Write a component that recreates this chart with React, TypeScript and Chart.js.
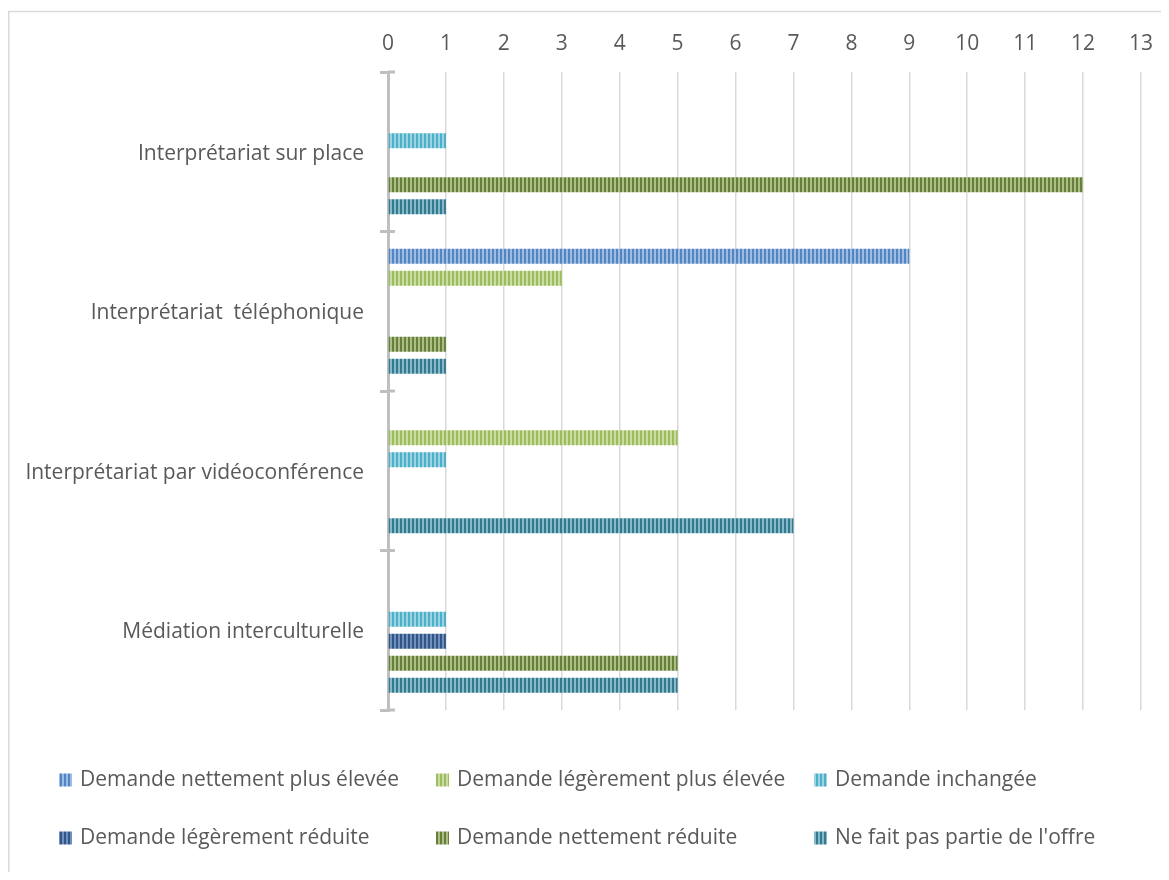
import React, { useEffect, useRef } from "react";
import { Chart, registerables } from "chart.js";

Chart.register(...registerables);

const categories = [
  "Interprétariat sur place",
  "Interprétariat  téléphonique",
  "Interprétariat par vidéoconférence",
  "Médiation interculturelle",
];

const seriesNames = [
  "Demande nettement plus élevée",
  "Demande légèrement plus élevée",
  "Demande inchangée",
  "Demande légèrement réduite",
  "Demande nettement réduite",
  "Ne fait pas partie de l'offre",
];

const nettementPlus = [0, 9, 0, 0];
const legerementPlus = [0, 3, 5, 0];
const inchangee = [1, 0, 1, 1];
const legerementReduite = [0, 0, 0, 1];
const nettementReduite = [12, 1, 0, 5];
const pasOffre = [1, 1, 7, 5];

const darkColors = ["#5585c0", "#9dbd5c", "#4dafc8", "#2f5687", "#677f3a", "#35798f"];
const lightColors = ["#9cbce3", "#c9dca5", "#9ad3e2", "#7290bb", "#abbe86", "#86bac9"];

const xTicks = { min: 0, max: 13, step: 1 };

const FONT = "'Open Sans'";
const FONT_SIZE = 21;
const TEXT_COLOR = "#595959";

function makePattern(ctx: CanvasRenderingContext2D, dark: string, light: string) {
  const c = document.createElement("canvas");
  c.width = 4;
  c.height = 4;
  const x = c.getContext("2d")!;
  x.fillStyle = light;
  x.fillRect(0, 0, 4, 4);
  x.fillStyle = dark;
  x.fillRect(0, 0, 2, 4);
  return ctx.createPattern(c, "repeat") as CanvasPattern;
}

const frameAndLegend = {
  id: "frameAndLegend",
  afterDraw(chart: any) {
    const ctx: CanvasRenderingContext2D = chart.ctx;
    ctx.save();
    // frame (left and top)
    ctx.strokeStyle = "#d9d9d9";
    ctx.lineWidth = 1.5;
    ctx.beginPath();
    ctx.moveTo(0.75, chart.height);
    ctx.lineTo(0.75, 3.5);
    ctx.lineTo(chart.width, 3.5);
    ctx.stroke();
    // right part of the category tick marks
    const ys = chart.scales.y;
    const left = chart.chartArea.left;
    ctx.strokeStyle = "#bfbfbf";
    ctx.lineWidth = 3;
    const n = chart.data.labels.length;
    const step = (ys.bottom - ys.top) / n;
    ctx.beginPath();
    for (let i = 0; i <= n; i++) {
      const y = ys.top + i * step;
      ctx.moveTo(left, y);
      ctx.lineTo(left + 7, y);
    }
    ctx.stroke();
    // legend grid
    const colX = [51, 428, 806];
    const rowY = [772, 830];
    ctx.font = `${FONT_SIZE}px ${FONT}`;
    ctx.textBaseline = "middle";
    ctx.textAlign = "left";
    chart.data.datasets.forEach((ds: any, i: number) => {
      const cx = colX[i % 3];
      const cy = rowY[Math.floor(i / 3)];
      ctx.fillStyle = ds.backgroundColor;
      ctx.fillRect(cx, cy - 6.5, 13, 13);
      ctx.fillStyle = TEXT_COLOR;
      ctx.fillText(ds.label, cx + 21, cy);
    });
    ctx.restore();
  },
};

export default function App() {
  const ref = useRef<HTMLCanvasElement>(null);
  useEffect(() => {
    const canvas = ref.current!;
    const ctx = canvas.getContext("2d")!;
    const values = [nettementPlus, legerementPlus, inchangee, legerementReduite, nettementReduite, pasOffre];
    const datasets = seriesNames.map((name, i) => ({
      label: name,
      data: values[i],
      backgroundColor: makePattern(ctx, darkColors[i], lightColors[i]),
      borderWidth: 0,
      categoryPercentage: 0.8276,
      barPercentage: 0.682,
    }));
    const chart = new Chart(canvas, {
      type: "bar",
      data: { labels: categories, datasets },
      plugins: [frameAndLegend],
      options: {
        indexAxis: "y",
        animation: false,
        responsive: false,
        maintainAspectRatio: false,
        layout: { padding: { top: 0, right: 20, bottom: 162, left: 0 } },
        plugins: { legend: { display: false }, tooltip: { enabled: false } },
        scales: {
          x: {
            position: "top",
            min: xTicks.min,
            max: xTicks.max,
            afterFit: (s: any) => {
              s.height = 64;
              s.paddingLeft = 0;
              s.paddingRight = 0;
            },
            ticks: {
              stepSize: xTicks.step,
              color: TEXT_COLOR,
              font: { family: FONT, size: FONT_SIZE },
              padding: 15,
            },
            grid: { color: "#d9d9d9", lineWidth: 1.5, drawTicks: false },
            border: { display: false },
          },
          y: {
            afterFit: (s: any) => {
              s.width = 380;
              s.paddingTop = 0;
              s.paddingBottom = 0;
            },
            ticks: {
              color: TEXT_COLOR,
              font: { family: FONT, size: FONT_SIZE },
              padding: 16,
              labelOffset: 2,
            },
            grid: {
              offset: true,
              drawOnChartArea: false,
              drawTicks: true,
              tickLength: 8,
              color: "#bfbfbf",
              lineWidth: 3,
            },
            border: { display: true, color: "#bfbfbf", width: 3 },
          },
        },
      },
    } as any);
    return () => chart.destroy();
  }, []);
  return (
    <div style={{ width: 1153, height: 864, overflow: "hidden" }}>
      <canvas ref={ref} width={1153} height={864} style={{ display: "block" }} />
    </div>
  );
}
